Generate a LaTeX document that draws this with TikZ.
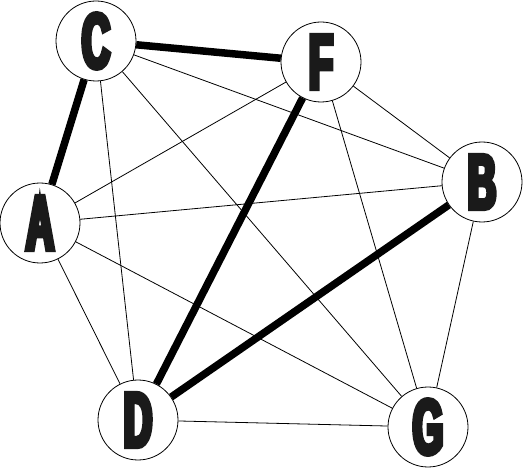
\documentclass[tikz,border=0pt]{standalone}
\usepackage{fontspec}
\setmainfont{Liberation Sans}
\newfontfamily\lblfont{Liberation Sans}[FakeStretch=0.5,FakeBold=6]
\definecolor{ink}{HTML}{1A1A1A}
\tikzset{
  vert/.style={circle, draw=black, line width=0.8pt, fill=white, minimum size=80pt, inner sep=0pt,
    font=\lblfont\bfseries\fontsize{78}{78}\selectfont, text=ink},
  thin/.style={line width=0.8pt, black},
  heavy/.style={line width=7.5pt, black}
}
\begin{document}
\begin{tikzpicture}[x=1pt, y=-1pt]
\useasboundingbox (0,0) rectangle (531,468);
\node[vert] (C) at (96,41) {C};
\node[vert] (F) at (321,62) {F};
\node[vert] (B) at (482,182) {B};
\node[vert] (A) at (40,223) {A};
\node[vert] (D) at (138,420) {D};
\node[vert] (G) at (428,427) {G};
\draw[thin] (C) -- (B);
\draw[thin] (C) -- (D);
\draw[thin] (C) -- (G);
\draw[thin] (F) -- (A);
\draw[thin] (F) -- (B);
\draw[thin] (F) -- (G);
\draw[thin] (A) -- (B);
\draw[thin] (A) -- (D);
\draw[thin] (A) -- (G);
\draw[thin] (D) -- (G);
\draw[thin] (B) -- (G);
\draw[heavy] (C) -- (F);
\draw[heavy] (C) -- (A);
\draw[heavy] (F) -- (D);
\draw[heavy] (B) -- (D);
\end{tikzpicture}
\end{document}
